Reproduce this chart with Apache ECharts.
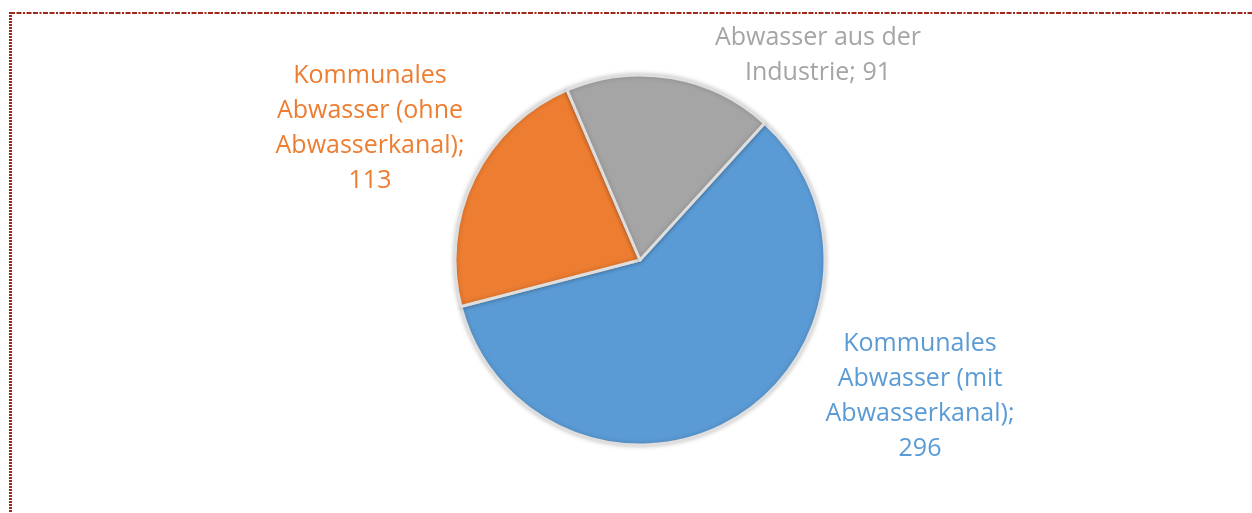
<!DOCTYPE html>
<html>
<head>
<meta charset="utf-8">
<script src="https://cdn.jsdelivr.net/npm/echarts@6/dist/echarts.min.js"></script>
<style>
  html, body { margin: 0; padding: 0; background: #fff; }
  #chart { width: 1252px; height: 513px; }
</style>
</head>
<body>
<div id="chart"></div>
<script>
// Daten
const categories = [
  'Kommunales Abwasser (mit Abwasserkanal)',
  'Kommunales Abwasser (ohne Abwasserkanal)',
  'Abwasser aus der Industrie'
];
const values = [296, 113, 91];
const colors = ['#5b9bd5', '#ed7d31', '#a5a5a5'];

// Zeilenumbruch der Beschriftungen wie im Original
const labelText = [
  'Kommunales\nAbwasser (mit\nAbwasserkanal);\n296',
  'Kommunales\nAbwasser (ohne\nAbwasserkanal);\n113',
  'Abwasser aus der\nIndustrie; 91'
];

// Label-Positionen (wie im Original, von Excel gesetzt)
const labelPos = [[920, 396], [370, 128], [818, 55]];

const chart = echarts.init(document.getElementById('chart'));

chart.setOption({
  animation: false,
  graphic: [
    {
      type: 'line',
      shape: { x1: 10, y1: 13, x2: 1252, y2: 13 },
      style: { stroke: '#a0281a', lineWidth: 2, lineDash: [5, 1.5, 5, 1.5, 2, 1.5] }
    },
    {
      type: 'line',
      shape: { x1: 10.5, y1: 12, x2: 10.5, y2: 513 },
      style: { stroke: '#a0281a', lineWidth: 3, lineDash: [2, 1] }
    }
  ],
  series: [{
    type: 'pie',
    center: [640, 260],
    radius: 185,
    startAngle: 47.7,
    clockwise: true,
    color: colors,
    itemStyle: {
      borderColor: '#dedede',
      borderWidth: 3,
      shadowBlur: 5,
      shadowColor: 'rgba(0,0,0,0.2)'
    },
    label: {
      show: true,
      position: 'outside',
      fontFamily: 'Open Sans',
      fontSize: 25,
      lineHeight: 35,
      align: 'center',
      formatter: p => labelText[p.dataIndex]
    },
    labelLine: { show: false },
    labelLayout: function (params) {
      const pos = labelPos[params.dataIndex];
      return { x: pos[0], y: pos[1], align: 'center', verticalAlign: 'middle' };
    },
    emphasis: { disabled: true },
    data: categories.map((name, i) => ({
      name: name,
      value: values[i],
      label: { color: colors[i] }
    }))
  }]
});
</script>
</body>
</html>
